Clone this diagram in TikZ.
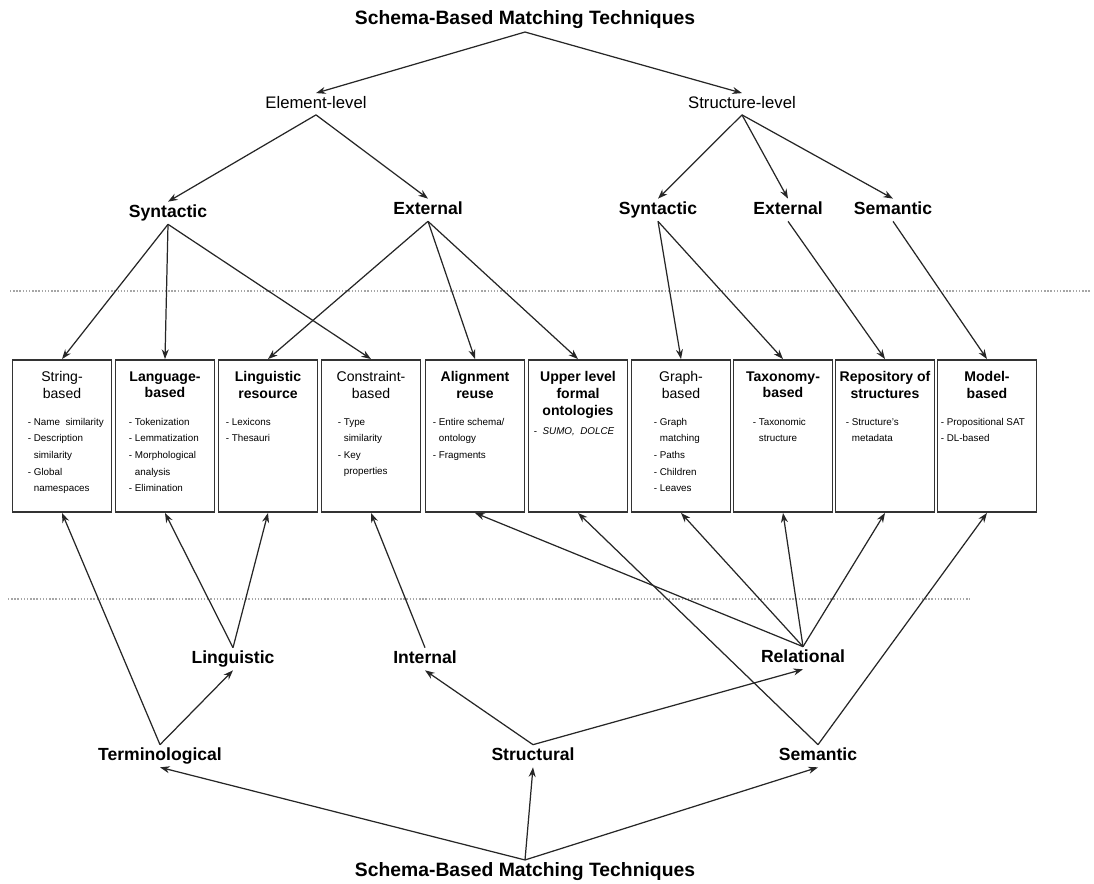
\documentclass[tikz,border=0pt]{standalone}
\usepackage{fontspec}
\setmainfont{Liberation Sans}
\usetikzlibrary{arrows.meta,positioning}

\tikzset{
  conn/.style={draw=black!85, line width=0.7pt, -{Stealth[length=5.5pt,width=4pt]}},
  head/.style={font=\bfseries\fontsize{11}{13}\selectfont, inner sep=1.5pt},
  lvl/.style={font=\fontsize{9.5}{12}\selectfont, inner sep=1.5pt, text height=7pt, text depth=2pt},
  cat/.style={font=\bfseries\fontsize{10}{12}\selectfont, inner sep=1.5pt, text height=7.4pt, text depth=2.1pt},
  techbox/.style={draw=black!80, line width=1.1pt, fill=white, minimum width=1.98cm, minimum height=3.04cm, inner sep=0pt},
  boxtitle/.style={font=\fontsize{8}{9.6}\selectfont, align=center, inner sep=0pt, anchor=north},
  boldtitle/.style={boxtitle, font=\bfseries\fontsize{8}{9.6}\selectfont},
  boxitems/.style={font=\fontsize{5.6}{9.4}\selectfont, align=left, inner sep=0pt, anchor=north west},
  sepline/.style={draw=gray!70, line width=0.6pt, dash pattern=on 0.8pt off 1pt}
}

\begin{document}
\begin{tikzpicture}[x=0.02cm, y=-0.02cm]
    \useasboundingbox (0,0) rectangle (1094,884);

    % dotted separators
    \draw[sepline] (10,291) -- (1090,291);
    \draw[sepline] (8,599) -- (970,599);

    % upper tree
    \node[head] (topT) at (525,20) {Schema-Based Matching Techniques};
    \node[lvl] (elem) at (316,104) {Element-level};
    \node[lvl] (strc) at (742,104) {Structure-level};
    \node[cat] (eSyn) at (168,213) {Syntactic};
    \node[cat] (eExt) at (428,210) {External};
    \node[cat] (sSyn) at (658,210) {Syntactic};
    \node[cat] (sExt) at (788,210) {External};
    \node[cat] (sSem) at (893,210) {Semantic};

    % technique boxes
    \foreach \n/\x in {bStr/62, bLang/165, bLres/268, bCons/371, bAlign/475,
                       bUpper/578, bGraph/681, bTax/783, bRepo/885, bModel/987}
        \node[techbox] (\n) at (\x,436) {};

    \node[boxtitle] at (62,371) {String-\\based};
    \node[boldtitle] at (165,371) {Language-\\based};
    \node[boldtitle] at (268,371) {Linguistic\\resource};
    \node[boxtitle] at (371,371) {Constraint-\\based};
    \node[boldtitle] at (475,371) {Alignment\\reuse};
    \node[boldtitle] at (578,371) {Upper level\\formal\\ontologies};
    \node[boxtitle] at (681,371) {Graph-\\based};
    \node[boldtitle] at (783,371) {Taxonomy-\\based};
    \node[boldtitle] at (885,371) {Repository of\\structures};
    \node[boldtitle] at (987,371) {Model-\\based};

    \node[boxitems] at (27.5,418) {- Name\ \ similarity\\- Description\\\phantom{- }similarity\\- Global\\\phantom{- }namespaces};
    \node[boxitems] at (128.5,418) {- Tokenization\\- Lemmatization\\- Morphological\\\phantom{- }analysis\\- Elimination};
    \node[boxitems] at (225.5,418) {- Lexicons\\- Thesauri};
    \node[boxitems] at (337.5,418) {- Type\\\phantom{- }similarity\\- Key\\\phantom{- }properties};
    \node[boxitems] at (432.5,418) {- Entire schema/\\\phantom{- }ontology\\- Fragments};
    \node[boxitems] at (533.5,427) {-\ \ \textit{SUMO,\ \ DOLCE}};
    \node[boxitems] at (653.5,418) {- Graph\\\phantom{- }matching\\- Paths\\- Children\\- Leaves};
    \node[boxitems] at (752.5,418) {- Taxonomic\\\phantom{- }structure};
    \node[boxitems] at (845.5,418) {- Structure's\\\phantom{- }metadata};
    \node[boxitems] at (940.5,418) {- Propositional SAT\\- DL-based};

    % lower tree
    \node[cat] (ling) at (233,659) {Linguistic};
    \node[cat] (intl) at (425,659) {Internal};
    \node[cat] (rel) at (803,658) {Relational};
    \node[cat] (term) at (160,756) {Terminological};
    \node[cat] (struc) at (533,756) {Structural};
    \node[cat] (sem) at (818,756) {Semantic};
    \node[head] (botT) at (525,872) {Schema-Based Matching Techniques};

    \foreach \s/\e in {topT/elem, topT/strc, elem/eSyn, elem/eExt, strc/sSyn, strc/sExt, strc/sSem,
                       eSyn/bStr, eSyn/bLang, eSyn/bCons, eExt/bLres, eExt/bAlign, eExt/bUpper,
                       sSyn/bGraph, sSyn/bTax, sExt/bRepo, sSem/bModel}
        \draw[conn] (\s.south) -- (\e.north);

    \foreach \s/\e in {term/bStr, ling/bLang, ling/bLres, intl/bCons, rel/bAlign, rel/bGraph,
                       rel/bTax, rel/bRepo, sem/bUpper, sem/bModel, term/ling, struc/intl,
                       struc/rel, botT/term, botT/struc, botT/sem}
        \draw[conn] (\s.north) -- (\e.south);
\end{tikzpicture}
\end{document}
